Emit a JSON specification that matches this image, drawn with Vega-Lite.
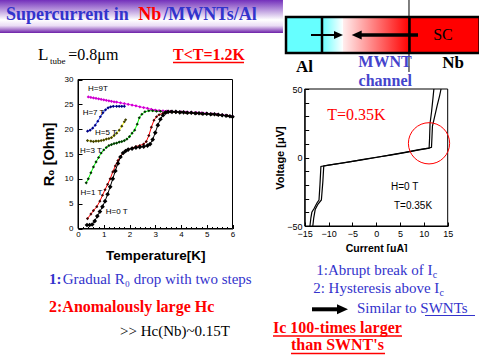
{
"$schema": "https://vega.github.io/schema/vega-lite/v6.json",
"width": 479, "height": 359, "autosize": {"type": "none"}, "padding": 0, "background": "white",
"config": {"view": {"stroke": null}},
"datasets": {
"rt": [
{"H":"9T","T":0.4,"R":26.5},{"H":"9T","T":0.5,"R":26.4},{"H":"9T","T":0.6,"R":26.3},{"H":"9T","T":0.7,"R":26.2},{"H":"9T","T":0.8,"R":26.1},{"H":"9T","T":0.9,"R":26.0},{"H":"9T","T":1.0,"R":25.9},{"H":"9T","T":1.1,"R":25.8},{"H":"9T","T":1.2,"R":25.7},{"H":"9T","T":1.3,"R":25.6},{"H":"9T","T":1.4,"R":25.5},{"H":"9T","T":1.5,"R":25.45},{"H":"9T","T":1.65,"R":25.3},{"H":"9T","T":1.8,"R":25.15},{"H":"9T","T":1.95,"R":25.0},{"H":"9T","T":2.1,"R":24.85},{"H":"9T","T":2.25,"R":24.7},{"H":"9T","T":2.4,"R":24.5},{"H":"9T","T":2.55,"R":24.35},{"H":"9T","T":2.7,"R":24.2},{"H":"9T","T":2.85,"R":24.0},{"H":"9T","T":3.0,"R":23.85},{"H":"9T","T":3.15,"R":23.75},{"H":"9T","T":3.3,"R":23.7},{"H":"9T","T":3.45,"R":23.65},{"H":"9T","T":3.6,"R":23.6},{"H":"9T","T":3.8,"R":23.55},{"H":"9T","T":4.0,"R":23.5},{"H":"9T","T":4.2,"R":23.45},{"H":"9T","T":4.4,"R":23.4},{"H":"9T","T":4.6,"R":23.35},{"H":"9T","T":4.8,"R":23.3},{"H":"9T","T":5.0,"R":23.2},{"H":"9T","T":5.2,"R":23.1},{"H":"9T","T":5.4,"R":23.0},{"H":"9T","T":5.6,"R":22.9},{"H":"9T","T":5.8,"R":22.75},{"H":"9T","T":6.0,"R":22.6},
{"H":"7T","T":0.37,"R":19.6},{"H":"7T","T":0.47,"R":19.8},{"H":"7T","T":0.57,"R":20.2},{"H":"7T","T":0.67,"R":20.8},{"H":"7T","T":0.77,"R":21.6},{"H":"7T","T":0.87,"R":22.5},{"H":"7T","T":0.97,"R":23.3},{"H":"7T","T":1.07,"R":23.9},{"H":"7T","T":1.17,"R":24.3},{"H":"7T","T":1.27,"R":24.5},{"H":"7T","T":1.37,"R":24.6},{"H":"7T","T":1.5,"R":24.6},{"H":"7T","T":1.6,"R":24.6},{"H":"7T","T":1.7,"R":24.6},{"H":"7T","T":1.8,"R":24.6},
{"H":"5T","T":0.37,"R":17.7},{"H":"5T","T":0.5,"R":17.6},{"H":"5T","T":0.6,"R":17.5},{"H":"5T","T":0.7,"R":17.6},{"H":"5T","T":0.8,"R":17.6},{"H":"5T","T":0.9,"R":17.7},{"H":"5T","T":1.0,"R":17.8},{"H":"5T","T":1.1,"R":18.0},{"H":"5T","T":1.2,"R":18.1},{"H":"5T","T":1.3,"R":18.3},{"H":"5T","T":1.4,"R":18.7},{"H":"5T","T":1.5,"R":19.2},{"H":"5T","T":1.6,"R":19.8},{"H":"5T","T":1.7,"R":20.6},{"H":"5T","T":1.8,"R":21.5},{"H":"5T","T":1.85,"R":21.9},
{"H":"3T","T":0.32,"R":9.2},{"H":"3T","T":0.4,"R":10.0},{"H":"3T","T":0.5,"R":11.2},{"H":"3T","T":0.6,"R":12.4},{"H":"3T","T":0.7,"R":13.4},{"H":"3T","T":0.8,"R":14.3},{"H":"3T","T":0.9,"R":15.2},{"H":"3T","T":1.0,"R":15.8},{"H":"3T","T":1.1,"R":16.3},{"H":"3T","T":1.2,"R":16.7},{"H":"3T","T":1.3,"R":16.9},{"H":"3T","T":1.4,"R":17.1},{"H":"3T","T":1.5,"R":17.2},{"H":"3T","T":1.6,"R":17.4},{"H":"3T","T":1.7,"R":17.5},{"H":"3T","T":1.8,"R":17.7},{"H":"3T","T":1.9,"R":18.0},{"H":"3T","T":2.0,"R":18.5},{"H":"3T","T":2.1,"R":19.2},{"H":"3T","T":2.2,"R":19.8},{"H":"3T","T":2.3,"R":21.0},{"H":"3T","T":2.38,"R":22.3},{"H":"3T","T":2.48,"R":23.0},{"H":"3T","T":2.6,"R":23.5},{"H":"3T","T":2.75,"R":23.7},{"H":"3T","T":2.9,"R":23.7},{"H":"3T","T":3.05,"R":23.6},{"H":"3T","T":3.2,"R":23.6},{"H":"3T","T":3.4,"R":23.5},{"H":"3T","T":3.6,"R":23.5},{"H":"3T","T":3.8,"R":23.4},{"H":"3T","T":4.0,"R":23.4},{"H":"3T","T":4.2,"R":23.3},{"H":"3T","T":4.4,"R":23.3},{"H":"3T","T":4.6,"R":23.2},{"H":"3T","T":4.8,"R":23.1},{"H":"3T","T":5.0,"R":23.1},{"H":"3T","T":5.2,"R":23.0},{"H":"3T","T":5.4,"R":22.9},{"H":"3T","T":5.6,"R":22.8},{"H":"3T","T":5.8,"R":22.7},{"H":"3T","T":6.0,"R":22.5},
{"H":"1T","T":0.37,"R":2.0},{"H":"1T","T":0.5,"R":2.9},{"H":"1T","T":0.6,"R":3.6},{"H":"1T","T":0.73,"R":4.4},{"H":"1T","T":0.85,"R":5.5},{"H":"1T","T":0.95,"R":6.7},{"H":"1T","T":1.05,"R":7.8},{"H":"1T","T":1.15,"R":8.9},{"H":"1T","T":1.25,"R":10.0},{"H":"1T","T":1.35,"R":11.4},{"H":"1T","T":1.45,"R":12.6},{"H":"1T","T":1.55,"R":13.7},{"H":"1T","T":1.65,"R":14.5},{"H":"1T","T":1.75,"R":15.2},{"H":"1T","T":1.85,"R":15.6},{"H":"1T","T":1.95,"R":15.9},{"H":"1T","T":2.1,"R":16.2},{"H":"1T","T":2.25,"R":16.5},{"H":"1T","T":2.4,"R":16.7},{"H":"1T","T":2.55,"R":17.0},{"H":"1T","T":2.65,"R":17.5},{"H":"1T","T":2.75,"R":18.7},{"H":"1T","T":2.85,"R":20.4},{"H":"1T","T":2.95,"R":21.8},{"H":"1T","T":3.05,"R":22.5},{"H":"1T","T":3.15,"R":22.9},{"H":"1T","T":3.3,"R":23.2},{"H":"1T","T":3.45,"R":23.4},{"H":"1T","T":3.6,"R":23.5},{"H":"1T","T":3.8,"R":23.4},{"H":"1T","T":4.0,"R":23.4},{"H":"1T","T":4.2,"R":23.3},{"H":"1T","T":4.4,"R":23.3},{"H":"1T","T":4.6,"R":23.2},{"H":"1T","T":4.8,"R":23.1},{"H":"1T","T":5.0,"R":23.1},{"H":"1T","T":5.2,"R":23.0},{"H":"1T","T":5.4,"R":22.9},{"H":"1T","T":5.6,"R":22.8},{"H":"1T","T":5.8,"R":22.7},{"H":"1T","T":6.0,"R":22.5},
{"H":"0T","T":0.35,"R":0.7},{"H":"0T","T":0.45,"R":0.7},{"H":"0T","T":0.55,"R":0.8},{"H":"0T","T":0.65,"R":1.5},{"H":"0T","T":0.75,"R":2.5},{"H":"0T","T":0.85,"R":3.4},{"H":"0T","T":0.95,"R":4.4},{"H":"0T","T":1.05,"R":5.5},{"H":"0T","T":1.15,"R":6.9},{"H":"0T","T":1.25,"R":8.4},{"H":"0T","T":1.35,"R":10.0},{"H":"0T","T":1.45,"R":11.6},{"H":"0T","T":1.55,"R":13.1},{"H":"0T","T":1.65,"R":14.4},{"H":"0T","T":1.75,"R":15.2},{"H":"0T","T":1.85,"R":15.6},{"H":"0T","T":1.95,"R":15.9},{"H":"0T","T":2.1,"R":16.1},{"H":"0T","T":2.25,"R":16.3},{"H":"0T","T":2.4,"R":16.4},{"H":"0T","T":2.55,"R":16.5},{"H":"0T","T":2.7,"R":16.7},{"H":"0T","T":2.8,"R":17.0},{"H":"0T","T":2.9,"R":17.9},{"H":"0T","T":3.0,"R":19.3},{"H":"0T","T":3.1,"R":20.8},{"H":"0T","T":3.2,"R":22.0},{"H":"0T","T":3.3,"R":22.8},{"H":"0T","T":3.4,"R":23.3},{"H":"0T","T":3.5,"R":23.5},{"H":"0T","T":3.65,"R":23.5},{"H":"0T","T":3.8,"R":23.5},{"H":"0T","T":3.95,"R":23.4},{"H":"0T","T":4.1,"R":23.4},{"H":"0T","T":4.25,"R":23.3},{"H":"0T","T":4.4,"R":23.3},{"H":"0T","T":4.55,"R":23.2},{"H":"0T","T":4.7,"R":23.2},{"H":"0T","T":4.85,"R":23.1},{"H":"0T","T":5.0,"R":23.1},{"H":"0T","T":5.15,"R":23.0},{"H":"0T","T":5.3,"R":23.0},{"H":"0T","T":5.45,"R":22.9},{"H":"0T","T":5.6,"R":22.8},{"H":"0T","T":5.75,"R":22.7},{"H":"0T","T":5.9,"R":22.6},{"H":"0T","T":6.0,"R":22.5}
],
"iv": [
{"b":"a","s":1,"I":-13.9,"V":-50},{"b":"a","s":2,"I":-13.7,"V":-44},{"b":"a","s":3,"I":-13.5,"V":-40},{"b":"a","s":4,"I":-13.0,"V":-37},{"b":"a","s":5,"I":-12.4,"V":-33},{"b":"a","s":6,"I":-12.0,"V":-31},{"b":"a","s":7,"I":-11.8,"V":-20},{"b":"a","s":8,"I":-11.6,"V":-6.5},{"b":"a","s":9,"I":-10.0,"V":-5.6},{"b":"a","s":10,"I":-7,"V":-4.0},{"b":"a","s":11,"I":-5,"V":-2.8},{"b":"a","s":12,"I":-3,"V":-1.5},{"b":"a","s":13,"I":0,"V":0.2},{"b":"a","s":14,"I":3,"V":1.8},{"b":"a","s":15,"I":6,"V":3.6},{"b":"a","s":16,"I":9,"V":5.6},{"b":"a","s":17,"I":10.5,"V":6.5},{"b":"a","s":18,"I":11.1,"V":6.8},{"b":"a","s":19,"I":11.2,"V":14},{"b":"a","s":20,"I":11.3,"V":25},{"b":"a","s":21,"I":11.6,"V":33},{"b":"a","s":22,"I":11.9,"V":43},{"b":"a","s":23,"I":12.1,"V":50},
{"b":"b","s":1,"I":-13.3,"V":-50},{"b":"b","s":2,"I":-13.1,"V":-44},{"b":"b","s":3,"I":-12.8,"V":-38},{"b":"b","s":4,"I":-12.2,"V":-34},{"b":"b","s":5,"I":-11.5,"V":-31},{"b":"b","s":6,"I":-11.2,"V":-18},{"b":"b","s":7,"I":-11.0,"V":-6.2},{"b":"b","s":8,"I":-9,"V":-5.0},{"b":"b","s":9,"I":-6,"V":-3.4},{"b":"b","s":10,"I":-3,"V":-1.7},{"b":"b","s":11,"I":0,"V":0},{"b":"b","s":12,"I":3,"V":1.9},{"b":"b","s":13,"I":6,"V":3.8},{"b":"b","s":14,"I":9,"V":5.8},{"b":"b","s":15,"I":11.0,"V":6.9},{"b":"b","s":16,"I":11.6,"V":7.5},{"b":"b","s":17,"I":11.7,"V":15},{"b":"b","s":18,"I":11.8,"V":23},{"b":"b","s":19,"I":12.2,"V":29},{"b":"b","s":20,"I":12.8,"V":38},{"b":"b","s":21,"I":13.3,"V":45},{"b":"b","s":22,"I":13.6,"V":50}
]
},
"data": {"values": [{}]},
"resolve": {"scale": {"x": "independent", "y": "independent"}, "axis": {"x": "independent", "y": "independent"}},
"layer": [
{
"resolve": {"axis": {"x": "independent", "y": "independent"}},
"layer": [
{"data": {"name": "rt"},
 "mark": {"type": "line", "strokeWidth": 1},
 "encoding": {
  "x": {"field": "T", "type": "quantitative",
   "scale": {"domain": [0, 6], "range": [78, 232.5], "nice": false, "zero": false},
   "axis": {"orient": "bottom", "offset": -130.5, "values": [0,1,2,3,4,5,6], "format": "d", "labelOverlap": false, "labelFlush": false,
    "tickSize": -4, "labelPadding": 5.5, "labelFont": "Liberation Sans", "labelFontSize": 8, "labelColor": "black",
    "tickColor": "black", "domainColor": "black", "grid": false,
    "title": "Temperature[K]", "titleFont": "Liberation Sans", "titleFontSize": 13.5, "titleFontWeight": "bold", "titleColor": "black", "titlePadding": 10}},
  "y": {"field": "R", "type": "quantitative",
   "scale": {"domain": [0, 30], "range": [228.5, 79.5], "nice": false, "zero": false},
   "axis": {"orient": "left", "offset": -78, "values": [0,5,10,15,20,25,30], "format": "d", "labelOverlap": false, "labelFlush": false,
    "tickSize": -4, "labelPadding": 9, "labelFont": "Liberation Sans", "labelFontSize": 8, "labelColor": "black",
    "tickColor": "black", "domainColor": "black", "grid": false,
    "title": "R₀ [Ohm]", "titleFont": "Liberation Sans", "titleFontSize": 14.5, "titleFontWeight": "bold", "titleColor": "black", "titlePadding": 8}},
  "color": {"field": "H", "type": "nominal", "legend": null, "scale": {"domain": ["9T","7T","5T","3T","1T","0T"], "range": ["#ff00ff","#2040ff","#ffff00","#00ff00","#ff0000","#000000"]}}
 }},
{"data": {"name": "rt"},
 "mark": {"type": "point", "shape": "diamond", "filled": true, "opacity": 1},
 "encoding": {
  "x": {"field": "T", "type": "quantitative",
   "axis": {"orient": "bottom", "offset": -130.5, "values": [0.2,0.4,0.6,0.8,1.2,1.4,1.6,1.8,2.2,2.4,2.6,2.8,3.2,3.4,3.6,3.8,4.2,4.4,4.6,4.8,5.2,5.4,5.6,5.8],
    "labels": false, "domain": false, "tickSize": -2, "tickColor": "black", "grid": false, "title": null}},
  "y": {"field": "R", "type": "quantitative", "axis": null},
  "fill": {"field": "H", "type": "nominal", "legend": null, "scale": {"domain": ["9T","7T","5T","3T","1T","0T"], "range": ["#cc00cc","#000080","#404000","#003300","#400000","#000000"]}},
  "size": {"condition": {"test": "datum.H === '0T'", "value": 22}, "value": 10}
 }},
{"mark": {"type": "rect", "fill": {"gradient": "linear", "x1": 0, "y1": 0, "x2": 0, "y2": 1, "stops": [{"offset": 0, "color": "#7330bb"}, {"offset": 0.6, "color": "#ffffff"}, {"offset": 0.78, "color": "#eadcf5"}, {"offset": 1, "color": "#6c1fa8"}]}},
 "encoding": {"x": {"datum": -3.03, "type": "quantitative", "axis": null}, "x2": {"datum": 7.96}, "y": {"datum": 46.0, "type": "quantitative", "axis": null}, "y2": {"datum": 39.36}}},
{"mark": {"type": "text", "text": "Supercurrent in ", "align": "left", "baseline": "alphabetic", "font": "Liberation Serif", "fontSize": 18, "fontWeight": "bold", "color": "#3333cc"},
 "encoding": {"x": {"datum": -2.8, "type": "quantitative", "axis": null}, "y": {"datum": 41.88, "type": "quantitative", "axis": null}}},
{"mark": {"type": "text", "text": "Nb", "align": "left", "baseline": "alphabetic", "font": "Liberation Serif", "fontSize": 18, "fontWeight": "bold", "color": "#ff0000"},
 "encoding": {"x": {"datum": 2.343, "type": "quantitative", "axis": null}, "y": {"datum": 41.88, "type": "quantitative", "axis": null}}},
{"mark": {"type": "text", "text": "/MWNTs/Al", "align": "left", "baseline": "alphabetic", "font": "Liberation Serif", "fontSize": 18, "fontWeight": "bold", "color": "#3333cc"},
 "encoding": {"x": {"datum": 3.314, "type": "quantitative", "axis": null}, "y": {"datum": 41.88, "type": "quantitative", "axis": null}}},
{"mark": {"type": "text", "text": "L", "align": "left", "baseline": "alphabetic", "font": "Liberation Serif", "fontSize": 17, "color": "black"},
 "encoding": {"x": {"datum": -1.553, "type": "quantitative", "axis": null}, "y": {"datum": 33.93, "type": "quantitative", "axis": null}}},
{"mark": {"type": "text", "text": "tube", "align": "left", "baseline": "alphabetic", "font": "Liberation Serif", "fontSize": 9, "color": "black"},
 "encoding": {"x": {"datum": -1.087, "type": "quantitative", "axis": null}, "y": {"datum": 33.22, "type": "quantitative", "axis": null}}},
{"mark": {"type": "text", "text": "=0.8μm", "align": "left", "baseline": "alphabetic", "font": "Liberation Serif", "fontSize": 16, "color": "black"},
 "encoding": {"x": {"datum": -0.377, "type": "quantitative", "axis": null}, "y": {"datum": 33.93, "type": "quantitative", "axis": null}}},
{"mark": {"type": "text", "text": "T<T=1.2K", "align": "left", "baseline": "alphabetic", "font": "Liberation Serif", "fontSize": 16, "fontWeight": "bold", "color": "#ff0000"},
 "encoding": {"x": {"datum": 3.689, "type": "quantitative", "axis": null}, "y": {"datum": 33.93, "type": "quantitative", "axis": null}}},
{"mark": {"type": "rule", "color": "#ff0000", "strokeWidth": 1.5},
 "encoding": {"x": {"datum": 3.689, "type": "quantitative", "axis": null}, "x2": {"datum": 6.447}, "y": {"datum": 33.42, "type": "quantitative", "axis": null}}},
{"mark": {"type": "rect", "fillOpacity": 0, "stroke": "black", "strokeWidth": 1},
 "encoding": {"x": {"datum": 0, "type": "quantitative", "axis": null}, "x2": {"datum": 6}, "y": {"datum": 0, "type": "quantitative", "axis": null}, "y2": {"datum": 30}}},
{"mark": {"type": "text", "text": "H=9T", "align": "left", "baseline": "middle", "font": "Liberation Sans", "fontSize": 8, "color": "black"},
 "encoding": {"x": {"datum": 0.388, "type": "quantitative", "axis": null}, "y": {"datum": 28.09, "type": "quantitative", "axis": null}}},
{"mark": {"type": "text", "text": "H=7 T", "align": "left", "baseline": "middle", "font": "Liberation Sans", "fontSize": 8, "color": "black"},
 "encoding": {"x": {"datum": 0.18, "type": "quantitative", "axis": null}, "y": {"datum": 23.19, "type": "quantitative", "axis": null}}},
{"mark": {"type": "text", "text": "H=5 T", "align": "left", "baseline": "middle", "font": "Liberation Sans", "fontSize": 8, "color": "black"},
 "encoding": {"x": {"datum": 0.66, "type": "quantitative", "axis": null}, "y": {"datum": 19.29, "type": "quantitative", "axis": null}}},
{"mark": {"type": "text", "text": "H=3 T", "align": "left", "baseline": "middle", "font": "Liberation Sans", "fontSize": 8, "color": "black"},
 "encoding": {"x": {"datum": 0.078, "type": "quantitative", "axis": null}, "y": {"datum": 15.6, "type": "quantitative", "axis": null}}},
{"mark": {"type": "text", "text": "H=1 T", "align": "left", "baseline": "middle", "font": "Liberation Sans", "fontSize": 8, "color": "black"},
 "encoding": {"x": {"datum": 0.1, "type": "quantitative", "axis": null}, "y": {"datum": 7.09, "type": "quantitative", "axis": null}}},
{"mark": {"type": "text", "text": "H=0 T", "align": "left", "baseline": "middle", "font": "Liberation Sans", "fontSize": 8, "color": "black"},
 "encoding": {"x": {"datum": 1.075, "type": "quantitative", "axis": null}, "y": {"datum": 3.38, "type": "quantitative", "axis": null}}},
{"mark": {"type": "text", "text": "1:", "align": "left", "baseline": "alphabetic", "font": "Liberation Serif", "fontSize": 15, "fontWeight": "bold", "color": "#3333cc"},
 "encoding": {"x": {"datum": -1.126, "type": "quantitative", "axis": null}, "y": {"datum": -11.23, "type": "quantitative", "axis": null}}},
{"mark": {"type": "text", "text": "Gradual R₀ drop with two steps", "align": "left", "baseline": "alphabetic", "font": "Liberation Serif", "fontSize": 15, "color": "#3333cc"},
 "encoding": {"x": {"datum": -0.594, "type": "quantitative", "axis": null}, "y": {"datum": -11.23, "type": "quantitative", "axis": null}}},
{"mark": {"type": "text", "text": "2:Anomalously large Hc", "align": "left", "baseline": "alphabetic", "font": "Liberation Serif", "fontSize": 16, "fontWeight": "bold", "color": "#ff0000"},
 "encoding": {"x": {"datum": -1.126, "type": "quantitative", "axis": null}, "y": {"datum": -16.87, "type": "quantitative", "axis": null}}},
{"mark": {"type": "text", "text": ">> Hc(Nb)~0.15T", "align": "left", "baseline": "alphabetic", "font": "Liberation Serif", "fontSize": 15, "color": "black"},
 "encoding": {"x": {"datum": 1.631, "type": "quantitative", "axis": null}, "y": {"datum": -21.64, "type": "quantitative", "axis": null}}}
]
},
{
"resolve": {"axis": {"x": "independent", "y": "independent"}},
"layer": [
{"data": {"name": "iv"},
 "mark": {"type": "line", "color": "black", "strokeWidth": 1.2},
 "encoding": {
  "x": {"field": "I", "type": "quantitative",
   "scale": {"domain": [-15, 15], "range": [304.7, 447.7], "nice": false, "zero": false},
   "axis": {"orient": "bottom", "offset": -133, "values": [-15,-10,-5,0,5,10,15], "format": "d", "labelOverlap": false, "labelFlush": false,
    "tickSize": -4, "labelPadding": 7.2, "labelFont": "Liberation Sans", "labelFontSize": 9, "labelColor": "black",
    "tickColor": "black", "domainColor": "black", "grid": false,
    "title": "Current [μA]", "titleFont": "Liberation Sans", "titleFontSize": 10.5, "titleFontWeight": "bold", "titleColor": "black", "titlePadding": 5}},
  "y": {"field": "V", "type": "quantitative",
   "scale": {"domain": [-50, 50], "range": [226, 89], "nice": false, "zero": false},
   "axis": {"orient": "left", "offset": -304.7, "values": [-50,0,50], "format": "d", "labelOverlap": false, "labelFlush": false,
    "tickSize": -4, "labelPadding": 6.7, "labelFont": "Liberation Sans", "labelFontSize": 9, "labelColor": "black",
    "tickColor": "black", "domainColor": "black", "grid": false,
    "title": "Voltage [μV]", "titleFont": "Liberation Sans", "titleFontSize": 11, "titleFontWeight": "bold", "titleColor": "black", "titlePadding": 1}},
  "detail": {"field": "b", "type": "nominal"},
  "order": {"field": "s", "type": "quantitative"}
 }},
{"mark": {"type": "rect", "fillOpacity": 0, "stroke": "black", "strokeWidth": 1},
 "encoding": {"x": {"datum": -15, "type": "quantitative", "axis": null}, "x2": {"datum": 15},
  "y": {"datum": -50, "type": "quantitative", "axis": {"orient": "left", "offset": -304.7, "values": [-40,-30,-20,-10,10,20,30,40], "labels": false, "domain": false, "tickSize": -4, "tickColor": "black", "grid": false, "title": null}},
  "y2": {"datum": 50}}},
{"mark": {"type": "rect", "color": "#66ffff"},
 "encoding": {"x": {"datum": -18.92, "type": "quantitative", "axis": null}, "x2": {"datum": -11.37}, "y": {"datum": 102.55, "type": "quantitative", "axis": null}, "y2": {"datum": 76.28}}},
{"mark": {"type": "rect", "fill": {"gradient": "linear", "x1": 0, "y1": 0, "x2": 1, "y2": 0, "stops": [{"offset": 0, "color": "#66ffff"}, {"offset": 1, "color": "#ffffff"}]}},
 "encoding": {"x": {"datum": -11.37, "type": "quantitative", "axis": null}, "x2": {"datum": -6.965}, "y": {"datum": 102.55, "type": "quantitative", "axis": null}, "y2": {"datum": 76.28}}},
{"mark": {"type": "rect", "fill": {"gradient": "linear", "x1": 0, "y1": 0, "x2": 1, "y2": 0, "stops": [{"offset": 0, "color": "#ffeeee"}, {"offset": 1, "color": "#ff0000"}]}},
 "encoding": {"x": {"datum": -6.965, "type": "quantitative", "axis": null}, "x2": {"datum": 6.985}, "y": {"datum": 102.55, "type": "quantitative", "axis": null}, "y2": {"datum": 76.28}}},
{"mark": {"type": "rect", "color": "#ff0000"},
 "encoding": {"x": {"datum": 6.985, "type": "quantitative", "axis": null}, "x2": {"datum": 21.7}, "y": {"datum": 102.55, "type": "quantitative", "axis": null}, "y2": {"datum": 76.28}}},
{"mark": {"type": "rect", "fillOpacity": 0, "stroke": "black", "strokeWidth": 2.5},
 "encoding": {"x": {"datum": -18.92, "type": "quantitative", "axis": null}, "x2": {"datum": 21.7}, "y": {"datum": 102.55, "type": "quantitative", "axis": null}, "y2": {"datum": 76.28}}},
{"mark": {"type": "rule", "color": "black", "strokeWidth": 2.5},
 "encoding": {"x": {"datum": -11.37, "type": "quantitative", "axis": null}, "y": {"datum": 102.55, "type": "quantitative", "axis": null}, "y2": {"datum": 76.28}}},
{"mark": {"type": "rule", "color": "black", "strokeWidth": 2.5},
 "encoding": {"x": {"datum": 6.985, "type": "quantitative", "axis": null}, "y": {"datum": 102.55, "type": "quantitative", "axis": null}, "y2": {"datum": 76.28}}},
{"mark": {"type": "rule", "color": "black", "strokeWidth": 1},
 "encoding": {"x": {"datum": 6.88, "type": "quantitative", "axis": null}, "y": {"datum": 115, "type": "quantitative", "axis": null}, "y2": {"datum": 62.41}}},
{"mark": {"type": "rule", "color": "black", "strokeWidth": 2},
 "encoding": {"x": {"datum": -13.68, "type": "quantitative", "axis": null}, "x2": {"datum": -8.3}, "y": {"datum": 89.42, "type": "quantitative", "axis": null}}},
{"mark": {"type": "point", "shape": "M1,0L-1,-0.9L-1,0.9Z", "filled": true, "opacity": 1, "color": "black", "size": 81},
 "encoding": {"x": {"datum": -7.909, "type": "quantitative", "axis": null}, "y": {"datum": 89.42, "type": "quantitative", "axis": null}}},
{"mark": {"type": "rule", "color": "black", "strokeWidth": 3.5},
 "encoding": {"x": {"datum": 8.77, "type": "quantitative", "axis": null}, "x2": {"datum": -3.6}, "y": {"datum": 89.42, "type": "quantitative", "axis": null}}},
{"mark": {"type": "point", "shape": "M-1,0L1,-0.9L1,0.9Z", "filled": true, "opacity": 1, "color": "black", "size": 100},
 "encoding": {"x": {"datum": -4.09, "type": "quantitative", "axis": null}, "y": {"datum": 89.42, "type": "quantitative", "axis": null}}},
{"mark": {"type": "text", "text": "SC", "align": "center", "baseline": "alphabetic", "font": "Liberation Serif", "fontSize": 16, "color": "black"},
 "encoding": {"x": {"datum": 14.01, "type": "quantitative", "axis": null}, "y": {"datum": 85.77, "type": "quantitative", "axis": null}}},
{"mark": {"type": "text", "text": "Al", "align": "center", "baseline": "alphabetic", "font": "Liberation Serif", "fontSize": 17, "fontWeight": "bold", "color": "black"},
 "encoding": {"x": {"datum": -15.04, "type": "quantitative", "axis": null}, "y": {"datum": 62.63, "type": "quantitative", "axis": null}}},
{"mark": {"type": "text", "text": "Nb", "align": "center", "baseline": "alphabetic", "font": "Liberation Serif", "fontSize": 17, "fontWeight": "bold", "color": "black"},
 "encoding": {"x": {"datum": 16.11, "type": "quantitative", "axis": null}, "y": {"datum": 65.11, "type": "quantitative", "axis": null}}},
{"mark": {"type": "text", "text": "MWNT", "align": "center", "baseline": "alphabetic", "font": "Liberation Serif", "fontSize": 16, "fontWeight": "bold", "color": "#4444cc"},
 "encoding": {"x": {"datum": 1.845, "type": "quantitative", "axis": null}, "y": {"datum": 66.28, "type": "quantitative", "axis": null}}},
{"mark": {"type": "text", "text": "channel", "align": "center", "baseline": "alphabetic", "font": "Liberation Serif", "fontSize": 16, "fontWeight": "bold", "color": "#4444cc"},
 "encoding": {"x": {"datum": 1.9, "type": "quantitative", "axis": null}, "y": {"datum": 52.19, "type": "quantitative", "axis": null}}},
{"mark": {"type": "point", "shape": "circle", "filled": false, "color": "#ff0000", "strokeWidth": 1, "size": 1700, "opacity": 1},
 "encoding": {"x": {"datum": 11.08, "type": "quantitative", "axis": null}, "y": {"datum": 10.36, "type": "quantitative", "axis": null}}},
{"mark": {"type": "text", "text": "T=0.35K", "align": "left", "baseline": "alphabetic", "font": "Liberation Serif", "fontSize": 16, "color": "#ff0000"},
 "encoding": {"x": {"datum": -10.26, "type": "quantitative", "axis": null}, "y": {"datum": 27.37, "type": "quantitative", "axis": null}}},
{"mark": {"type": "text", "text": "H=0 T", "align": "left", "baseline": "middle", "font": "Liberation Sans", "fontSize": 10, "color": "black"},
 "encoding": {"x": {"datum": 3.1, "type": "quantitative", "axis": null}, "y": {"datum": -21.31, "type": "quantitative", "axis": null}}},
{"mark": {"type": "text", "text": "T=0.35K", "align": "left", "baseline": "middle", "font": "Liberation Sans", "fontSize": 10, "color": "black"},
 "encoding": {"x": {"datum": 3.73, "type": "quantitative", "axis": null}, "y": {"datum": -35.4, "type": "quantitative", "axis": null}}},
{"mark": {"type": "rect", "color": "white"},
 "encoding": {"x": {"datum": -9.7, "type": "quantitative", "axis": null}, "x2": {"datum": 9.2}, "y": {"datum": -68.98, "type": "quantitative", "axis": null}, "y2": {"datum": -76.3}}},
{"mark": {"type": "text", "text": "1:Abrupt break of I", "align": "right", "baseline": "alphabetic", "font": "Liberation Serif", "fontSize": 15, "color": "#3333cc"},
 "encoding": {"x": {"datum": 11.8, "type": "quantitative", "axis": null}, "y": {"datum": -85.77, "type": "quantitative", "axis": null}}},
{"mark": {"type": "text", "text": "c", "align": "left", "baseline": "alphabetic", "font": "Liberation Serif", "fontSize": 10, "color": "#3333cc"},
 "encoding": {"x": {"datum": 11.85, "type": "quantitative", "axis": null}, "y": {"datum": -87.96, "type": "quantitative", "axis": null}}},
{"mark": {"type": "text", "text": "2: Hysteresis above I", "align": "right", "baseline": "alphabetic", "font": "Liberation Serif", "fontSize": 15, "color": "#3333cc"},
 "encoding": {"x": {"datum": 13.25, "type": "quantitative", "axis": null}, "y": {"datum": -98.66, "type": "quantitative", "axis": null}}},
{"mark": {"type": "text", "text": "c", "align": "left", "baseline": "alphabetic", "font": "Liberation Serif", "fontSize": 10, "color": "#3333cc"},
 "encoding": {"x": {"datum": 13.3, "type": "quantitative", "axis": null}, "y": {"datum": -101.1, "type": "quantitative", "axis": null}}},
{"mark": {"type": "rule", "color": "black", "strokeWidth": 4},
 "encoding": {"x": {"datum": -13.47, "type": "quantitative", "axis": null}, "x2": {"datum": -7.3}, "y": {"datum": -110.8, "type": "quantitative", "axis": null}}},
{"mark": {"type": "point", "shape": "M1,0L-1,-0.9L-1,0.9Z", "filled": true, "opacity": 1, "color": "black", "size": 121},
 "encoding": {"x": {"datum": -7.07, "type": "quantitative", "axis": null}, "y": {"datum": -110.8, "type": "quantitative", "axis": null}}},
{"mark": {"type": "text", "text": "Similar to SWNTs", "align": "left", "baseline": "alphabetic", "font": "Liberation Serif", "fontSize": 15, "color": "#3333cc"},
 "encoding": {"x": {"datum": -4.03, "type": "quantitative", "axis": null}, "y": {"datum": -113.3, "type": "quantitative", "axis": null}}},
{"mark": {"type": "rule", "color": "#3333cc", "strokeWidth": 1},
 "encoding": {"x": {"datum": 10.24, "type": "quantitative", "axis": null}, "x2": {"datum": 20.73}, "y": {"datum": -115.33, "type": "quantitative", "axis": null}}},
{"mark": {"type": "text", "text": "Ic 100-times larger", "align": "left", "baseline": "alphabetic", "font": "Liberation Serif", "fontSize": 16, "fontWeight": "bold", "color": "#ff0000"},
 "encoding": {"x": {"datum": -21.65, "type": "quantitative", "axis": null}, "y": {"datum": -127.9, "type": "quantitative", "axis": null}}},
{"mark": {"type": "rule", "color": "#ff0000", "strokeWidth": 1.5},
 "encoding": {"x": {"datum": -21.65, "type": "quantitative", "axis": null}, "x2": {"datum": 5.41}, "y": {"datum": -130.29, "type": "quantitative", "axis": null}}},
{"mark": {"type": "text", "text": "than SWNT's", "align": "left", "baseline": "alphabetic", "font": "Liberation Serif", "fontSize": 16, "fontWeight": "bold", "color": "#ff0000"},
 "encoding": {"x": {"datum": -17.87, "type": "quantitative", "axis": null}, "y": {"datum": -140.5, "type": "quantitative", "axis": null}}},
{"mark": {"type": "rule", "color": "#ff0000", "strokeWidth": 1.5},
 "encoding": {"x": {"datum": -17.87, "type": "quantitative", "axis": null}, "x2": {"datum": 1.85}, "y": {"datum": -143.1, "type": "quantitative", "axis": null}}}
]
}
]
}
